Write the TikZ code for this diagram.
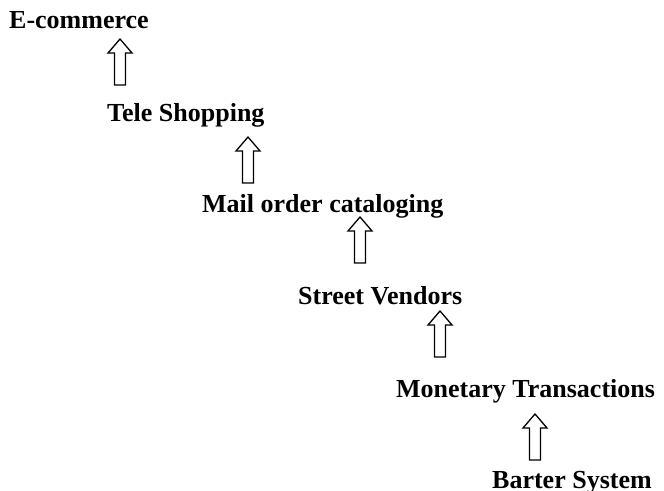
\documentclass[tikz,border=0pt]{standalone}
\usepackage{fontspec}
\setmainfont{Liberation Serif}
\begin{document}
\begin{tikzpicture}[x=1pt,y=-1pt,
  lbl/.style={anchor=base west,inner sep=0pt,font=\fontsize{26}{30}\selectfont\bfseries},
  blockarrow/.style={draw=black,line width=1.3pt,fill=white,line join=miter}]
\useasboundingbox (0,0) rectangle (664,490);
\node[lbl] (ec) at (9,28) {E-commerce};
\node[lbl] (ts) at (107,121) {Tele Shopping};
\node[lbl] (mo) at (202,212) {Mail order cataloging};
\node[lbl] (sv) at (298,304) {Street Vendors};
\node[lbl] (mt) at (396,397) {Monetary Transactions};
\node[lbl] (bs) at (492,488) {Barter System};
\newcommand{\uparrowblock}[1]{%
  \draw[blockarrow] (#1) ++(-5.5,0) -- ++(0,-32) -- ++(-6.5,0) -- ++(12,-14) -- ++(12,14) -- ++(-6.5,0) -- ++(0,32) -- cycle;}
\coordinate (a1) at (120,85);
\coordinate (a2) at (248,183);
\coordinate (a3) at (360,263);
\coordinate (a4) at (440,357);
\coordinate (a5) at (535,460);
\uparrowblock{a1}
\uparrowblock{a2}
\uparrowblock{a3}
\uparrowblock{a4}
\uparrowblock{a5}
\end{tikzpicture}
\end{document}
